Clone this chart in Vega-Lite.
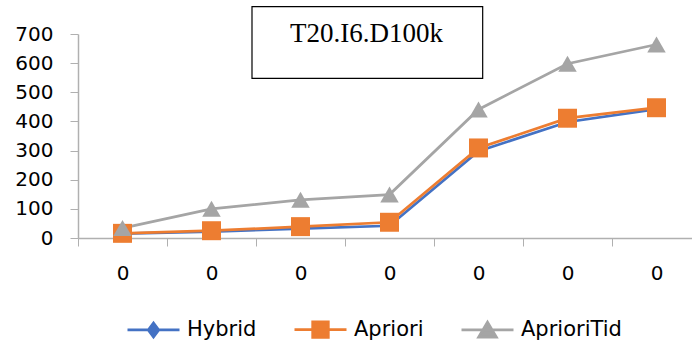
{
  "$schema": "https://vega.github.io/schema/vega-lite/v6.json",
  "width": 623,
  "height": 204,
  "autosize": {"type": "none"},
  "padding": {"left": 78, "top": 34, "right": -9, "bottom": 106},
  "config": {"view": {"stroke": null}, "font": "DejaVu Sans"},
  "data": {
    "values": [
      {"step": 1, "series": "Hybrid", "time": 15},
      {"step": 2, "series": "Hybrid", "time": 22},
      {"step": 3, "series": "Hybrid", "time": 32},
      {"step": 4, "series": "Hybrid", "time": 42},
      {"step": 5, "series": "Hybrid", "time": 298},
      {"step": 6, "series": "Hybrid", "time": 398},
      {"step": 7, "series": "Hybrid", "time": 442},
      {"step": 1, "series": "Apriori", "time": 16},
      {"step": 2, "series": "Apriori", "time": 25},
      {"step": 3, "series": "Apriori", "time": 39},
      {"step": 4, "series": "Apriori", "time": 54},
      {"step": 5, "series": "Apriori", "time": 309},
      {"step": 6, "series": "Apriori", "time": 411},
      {"step": 7, "series": "Apriori", "time": 447},
      {"step": 1, "series": "AprioriTid", "time": 34},
      {"step": 2, "series": "AprioriTid", "time": 100},
      {"step": 3, "series": "AprioriTid", "time": 131},
      {"step": 4, "series": "AprioriTid", "time": 149},
      {"step": 5, "series": "AprioriTid", "time": 441},
      {"step": 6, "series": "AprioriTid", "time": 598},
      {"step": 7, "series": "AprioriTid", "time": 664}
    ]
  },
  "resolve": {"scale": {"x": "independent"}, "axis": {"x": "independent", "y": "independent"}},
  "layer": [
    {
      "encoding": {
        "x": {
          "field": "step",
          "type": "ordinal",
          "scale": {"type": "band", "paddingInner": 0, "paddingOuter": 0},
          "axis": {
            "title": null,
            "tickBand": "extent",
            "labelExpr": "datum.value == null ? '' : '0'",
            "labelAngle": 0,
            "labelFontSize": 20,
            "labelColor": "#000000",
            "labelPadding": 17,
            "labelOverlap": false,
            "tickSize": 8,
            "tickColor": "#b0b0b0",
            "domainColor": "#b0b0b0",
            "domainWidth": 1.5,
            "grid": false
          }
        },
        "y": {
          "field": "time",
          "type": "quantitative",
          "scale": {"domain": [0, 700], "nice": false},
          "axis": {
            "title": null,
            "values": [0, 100, 200, 300, 400, 500, 600, 700],
            "labelFontSize": 20,
            "labelColor": "#000000",
            "labelPadding": 17,
            "labelOverlap": false,
            "labelFlush": false,
            "labelBound": false,
            "tickSize": 8,
            "tickColor": "#b0b0b0",
            "domainColor": "#b0b0b0",
            "domainWidth": 1.5,
            "grid": false
          }
        },
        "color": {
          "field": "series",
          "type": "nominal",
          "scale": {"domain": ["Hybrid", "Apriori", "AprioriTid"], "range": ["#4472C4", "#ED7D31", "#A5A5A5"]},
          "legend": {
            "title": null,
            "orient": "none",
            "direction": "horizontal",
            "legendX": 48,
            "legendY": 268,
            "padding": 0,
            "symbolSize": 2704,
            "symbolStrokeWidth": 2.75,
            "labelFontSize": 21,
            "labelColor": "#000000",
            "labelOffset": 6,
            "columnPadding": 32,
            "encode": {
              "symbols": {
                "update": {
                  "shape": {"signal": "datum.value === 'Hybrid' ? 'M-1,0H1M0,-0.27L0.2,0L0,0.27L-0.2,0Z' : datum.value === 'Apriori' ? 'M-1,0H1M-0.3,-0.3H0.3V0.3H-0.3Z' : 'M-1,0H1M0,-0.3L0.34,0.27H-0.34Z'"},
                  "size": {"value": 2704},
                  "stroke": {"scale": "color", "field": "value"},
                  "fill": {"scale": "color", "field": "value"},
                  "strokeWidth": {"value": 2.75},
                  "opacity": {"value": 1},
                  "fillOpacity": {"value": 1},
                  "strokeOpacity": {"value": 1}
                }
              }
            }
          }
        }
      },
      "layer": [
        {"mark": {"type": "line", "strokeWidth": 2.75}},
        {
          "transform": [{"filter": "datum.series === 'Hybrid'"}],
          "mark": {"type": "point", "filled": true, "opacity": 1, "shape": "diamond", "size": 110}
        },
        {
          "transform": [{"filter": "datum.series === 'Apriori'"}],
          "mark": {"type": "point", "filled": true, "opacity": 1, "shape": "square", "size": 360}
        },
        {
          "transform": [{"filter": "datum.series === 'AprioriTid'"}],
          "mark": {"type": "point", "filled": true, "opacity": 1, "shape": "triangle-up", "size": 340}
        }
      ]
    },
    {
      "data": {"values": [{"label": "T20.I6.D100k"}]},
      "encoding": {
        "x": {"datum": 2.455, "type": "quantitative", "scale": {"domain": [0.5, 7.5], "nice": false, "zero": false}, "axis": null}
      },
      "layer": [
        {
          "mark": {"type": "rect", "fill": "#ffffff", "fillOpacity": 0, "stroke": "#000000", "strokeWidth": 1.2, "clip": false},
          "encoding": {
            "x2": {"datum": 5.047},
            "y": {"datum": 794, "type": "quantitative", "axis": null},
            "y2": {"datum": 548}
          }
        },
        {
          "mark": {"type": "text", "font": "Liberation Serif", "fontSize": 27, "color": "#000000", "align": "center", "baseline": "alphabetic", "clip": false},
          "encoding": {
            "x": {"datum": 3.742, "type": "quantitative"},
            "y": {"datum": 674, "type": "quantitative", "axis": null},
            "text": {"field": "label"}
          }
        }
      ]
    }
  ]
}
